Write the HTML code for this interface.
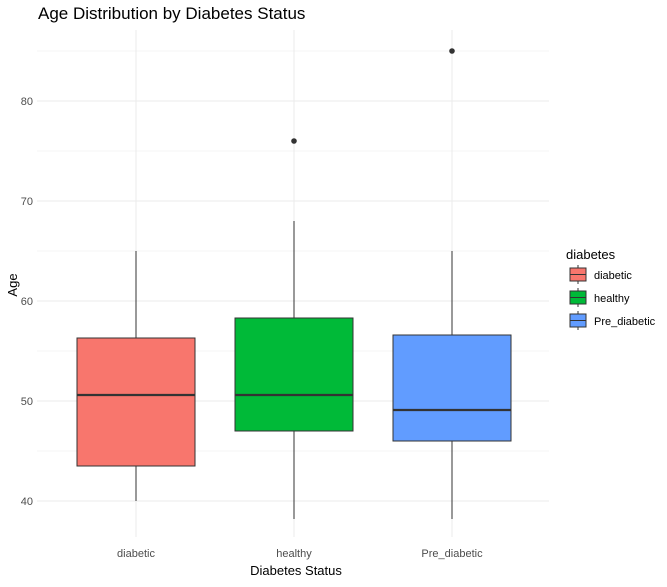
<!DOCTYPE html>
<html><head><meta charset="utf-8"><style>
body{margin:0;background:#fff;font-family:"Liberation Sans",sans-serif}
</style></head><body>
<svg id="c" width="667" height="582" xmlns="http://www.w3.org/2000/svg">
<text x="38" y="19" font-size="17" fill="#000">Age Distribution by Diabetes Status</text>
<text x="296" y="575" font-size="13" text-anchor="middle" fill="#000">Diabetes Status</text>
<text transform="translate(17,285) rotate(-90)" font-size="13" text-anchor="middle" fill="#000">Age</text>
<text x="566" y="259" font-size="13" fill="#000">diabetes</text>
<g id="grid"></g><g id="boxes"></g><g id="legend"></g>
</svg>
<script>
const categories=["diabetic","healthy","Pre_diabetic"];
const colors=["#F8766D","#00BA38","#619CFF"];
const q1=[43.5,47,46];
const medians=[50.6,50.6,49.1];
const q3=[56.3,58.3,56.6];
const whiskLo=[40,38.2,38.2];
const whiskHi=[65,68,65];
const outliers=[[],[76],[85]];
const yTicks=[40,50,60,70,80];
const NS="http://www.w3.org/2000/svg";
const y=v=>501-(v-40)*10;
const x=i=>136+i*158;
const L=37,R=549,T=30,B=537;
function mk(t,a,p){const e=document.createElementNS(NS,t);for(const k in a)e.setAttribute(k,a[k]);p.appendChild(e);return e;}
const g=document.getElementById('grid'),bx=document.getElementById('boxes'),lg=document.getElementById('legend');
for(let v=35;v<=85;v+=5){if(y(v)<T||y(v)>B)continue;
 const l=mk('line',{x1:L,x2:R,y1:y(v),y2:y(v),stroke:'#ebebeb','stroke-width':v%10==0?1:0.5},g);
 
 }
yTicks.forEach(v=>{const t=mk('text',{x:33,y:y(v)+4,'font-size':11,'text-anchor':'end',fill:'#4d4d4d'},g);t.textContent=v;
 
 });
categories.forEach((c,i)=>{
 const l=mk('line',{x1:x(i),x2:x(i),y1:T,y2:B,stroke:'#ebebeb'},g);
 
 
 const t=mk('text',{x:x(i),y:557,'font-size':11,'text-anchor':'middle',fill:'#4d4d4d'},g);t.textContent=c;
 
 
 const hw=59;
 const w1=mk('line',{x1:x(i),x2:x(i),y1:y(whiskHi[i]),y2:y(q3[i]),stroke:'#333'},bx);
 
 
 const w2=mk('line',{x1:x(i),x2:x(i),y1:y(q1[i]),y2:y(whiskLo[i]),stroke:'#333'},bx);
 
 
 const r=mk('rect',{x:x(i)-hw,y:y(q3[i]),width:hw*2,height:y(q1[i])-y(q3[i]),fill:colors[i],stroke:'#333'},bx);
 
 
 const m=mk('line',{x1:x(i)-hw,x2:x(i)+hw,y1:y(medians[i]),y2:y(medians[i]),stroke:'#333','stroke-width':2.2},bx);
 
 
 outliers[i].forEach(o=>{const p=mk('circle',{cx:x(i),cy:y(o),r:2.8,fill:'#333'},bx);
  
  });
 const ly=265+i*23;
 const lv=mk('line',{x1:578,x2:578,y1:ly,y2:ly+19,stroke:'#333'},lg);
 
 
 const lk=mk('rect',{x:570,y:ly+3,width:16,height:13,fill:colors[i],stroke:'#333'},lg);
 
 
 const lm=mk('line',{x1:570,x2:586,y1:ly+9.5,y2:ly+9.5,stroke:'#333'},lg);
 
 
 const lt=mk('text',{x:594,y:ly+14,'font-size':11,fill:'#000'},lg);lt.textContent=c;
 
 
});
</script>
</body></html>
